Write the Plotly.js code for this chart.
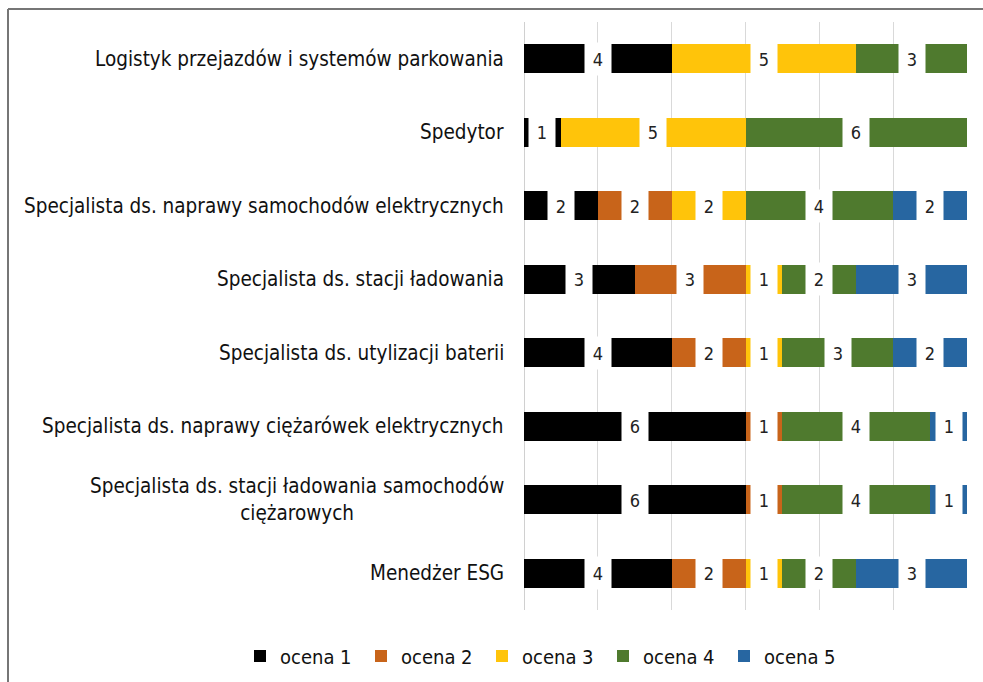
<!DOCTYPE html>
<html>
<head>
<meta charset="utf-8">
<script src="https://cdn.plot.ly/plotly-3.0.1.min.js"></script>
<style>html,body{margin:0;padding:0;background:#fff;}</style>
</head>
<body>
<div id="chart" style="width:983px;height:682px;"></div>
<script>
const categories = [
  "Logistyk przejazdów i systemów parkowania",
  "Spedytor",
  "Specjalista ds. naprawy samochodów elektrycznych",
  "Specjalista ds. stacji ładowania",
  "Specjalista ds. utylizacji baterii",
  "Specjalista ds. naprawy ciężarówek elektrycznych",
  "Specjalista ds. stacji ładowania samochodów<br>ciężarowych",
  "Menedżer ESG"
];
const seriesNames = ["ocena 1", "ocena 2", "ocena 3", "ocena 4", "ocena 5"];
const ocena1 = [4, 1, 2, 3, 4, 6, 6, 4];
const ocena2 = [0, 0, 2, 3, 2, 1, 1, 2];
const ocena3 = [5, 5, 2, 1, 1, 0, 0, 1];
const ocena4 = [3, 6, 4, 2, 3, 4, 4, 2];
const ocena5 = [0, 0, 2, 3, 2, 1, 1, 3];
const seriesValues = [ocena1, ocena2, ocena3, ocena4, ocena5];
const colors = ["#000000", "#C8641A", "#FFC40A", "#4F7A2E", "#2766A1"];
const FONT = "'DejaVu Sans Condensed', 'DejaVu Sans', sans-serif";

const traces = seriesValues.map((vals, i) => ({
  type: "bar",
  orientation: "h",
  name: seriesNames[i],
  y: categories,
  x: vals,
  marker: {color: colors[i], line: {width: 0}},
  hoverinfo: "skip"
}));

const annotations = [];
categories.forEach((cat, r) => {
  let cum = 0;
  seriesValues.forEach(vals => {
    const v = vals[r];
    if (v > 0) {
      annotations.push({
        x: cum + v / 2, y: cat, xref: "x", yref: "y",
        text: String(v), showarrow: false,
        bgcolor: "#ffffff", width: 24, height: 30,
        font: {family: FONT, size: 18, color: "#222222"}
      });
    }
    cum += v;
  });
  annotations.push({
    x: 0, y: cat, xref: "paper", yref: "y", xanchor: "right",
    xshift: -18, align: "center", showarrow: false, text: cat,
    font: {family: FONT, size: 20.5, color: "#111111"}
  });
});

const layout = {
  width: 983, height: 682,
  margin: {l: 524, r: 16, t: 22, b: 72, pad: 0, autoexpand: false},
  paper_bgcolor: "#ffffff", plot_bgcolor: "#ffffff",
  barmode: "stack",
  bargap: 0.6,
  showlegend: true,
  legend: {
    orientation: "h", xref: "paper", yref: "paper",
    x: (240 - 524) / 443, xanchor: "left", y: -46 / 588, yanchor: "middle",
    font: {family: FONT, size: 20, color: "#111111"},
    entrywidth: 76, entrywidthmode: "pixels",
    traceorder: "normal", itemclick: false
  },
  xaxis: {
    range: [0, 12], dtick: 2, showticklabels: false, ticks: "",
    showgrid: true, gridcolor: "#d9d9d9", gridwidth: 1,
    zeroline: true, zerolinecolor: "#d0d0d0", zerolinewidth: 1,
    showline: false, fixedrange: true
  },
  yaxis: {
    autorange: "reversed", showticklabels: false, ticks: "",
    showgrid: false, zeroline: false, showline: false, fixedrange: true
  },
  annotations: annotations,
  shapes: [
    {type: "line", xref: "paper", yref: "paper", x0: (8 - 524) / 443, x1: (990 - 524) / 443,
     y0: 1 + 13 / 588, y1: 1 + 13 / 588, line: {color: "#767676", width: 2}},
    {type: "line", xref: "paper", yref: "paper", x0: (8 - 524) / 443, x1: (8 - 524) / 443,
     y0: 1 + 13 / 588, y1: -80 / 588, line: {color: "#767676", width: 2}}
  ]
};

Plotly.newPlot("chart", traces, layout, {displayModeBar: false, staticPlot: true});
</script>
</body>
</html>
